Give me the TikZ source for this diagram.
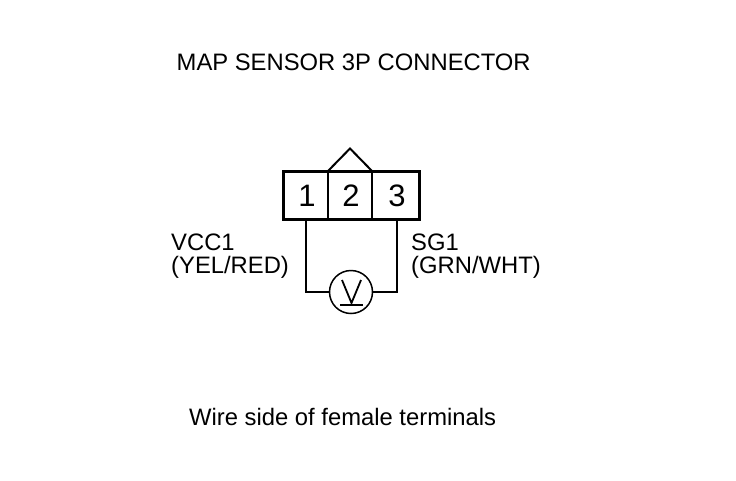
\documentclass[tikz,border=0pt]{standalone}
\usepackage{fontspec}
\setmainfont{Liberation Sans}
\begin{document}
\begin{tikzpicture}[x=1pt,y=-1pt,
  lbl/.style={inner sep=0pt,font=\fontsize{23.8}{26}\selectfont},
  num/.style={inner sep=0pt,font=\fontsize{31}{31}\selectfont},
  wire/.style={line width=2pt},
  thin line/.style={line width=1.5pt}]
\useasboundingbox (0,0) rectangle (736,480);
\fill[white] (0,0) rectangle (736,480);
\node[lbl,anchor=base west] (title) at (176.5,70) {MAP SENSOR 3P CONNECTOR};
\node[lbl,anchor=base west] (foot) at (189,425.5) {Wire side of female terminals};
\node[lbl,anchor=base west] (l1) at (171,250.5) {VCC1};
\node[lbl,anchor=base west] (l2) at (171,273) {(YEL/RED)};
\node[lbl,anchor=base west] (r1) at (411,250.5) {SG1};
\node[lbl,anchor=base west] (r2) at (411,273) {(GRN/WHT)};
\coordinate (tl) at (283,171);
\coordinate (br) at (419.5,219);
\coordinate (d1t) at (328,171);
\coordinate (d1b) at (328,219);
\coordinate (d2t) at (372,171);
\coordinate (d2b) at (372,219);
\coordinate (apex) at (350,148.5);
\node[num,anchor=base] (n1) at (307,206.5) {1};
\node[num,anchor=base] (n2) at (351,206.5) {2};
\node[num,anchor=base] (n3) at (397,206.5) {3};
\draw[thin line] (d1t) -- (d1b);
\draw[thin line] (d2t) -- (d2b);
\draw[wire,line join=miter] (d1t) -- (apex) -- (d2t);
\draw[line width=3pt] (tl) rectangle (br);
\node[circle,draw,line width=1.5pt,minimum size=43pt,inner sep=0pt] (vm) at (351,292) {};
\coordinate (w1) at (306,220);
\coordinate (w3) at (397,220);
\draw[wire] (w1) |- (vm.west);
\draw[wire] (w3) |- (vm.east);
\coordinate (va) at (342,280);
\coordinate (vb) at (351.5,303);
\coordinate (vc) at (361,280);
\draw[line width=1.8pt,line join=miter] (va) -- (vb) -- (vc);
\coordinate (ua) at (340,305);
\coordinate (ub) at (363,305);
\draw[line width=2pt] (ua) -- (ub);
\end{tikzpicture}
\end{document}
